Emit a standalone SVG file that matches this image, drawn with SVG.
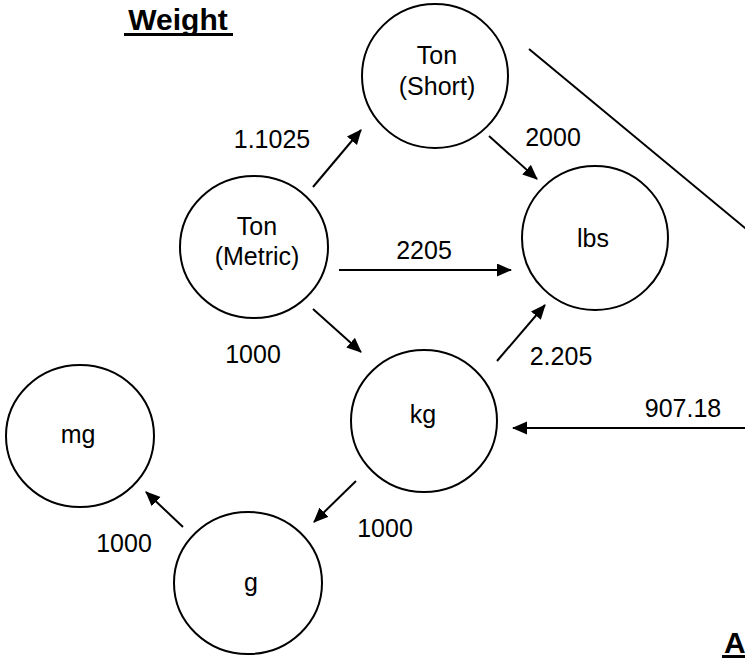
<svg xmlns="http://www.w3.org/2000/svg" width="745" height="659" viewBox="0 0 745 659">
<style>
.node ellipse{fill:#fff;stroke:#000;stroke-width:2}
text{font-family:"Liberation Sans",Arial,sans-serif;font-size:25px;fill:#000;text-anchor:middle}
.title{font-weight:bold;font-size:30px}
#connectors line{stroke:#000;stroke-width:2;fill:none}
.arr{marker-end:url(#ah)}
</style>
<defs>
<marker id="ah" markerUnits="userSpaceOnUse" markerWidth="16" markerHeight="14" refX="14" refY="6.5" orient="auto">
<path d="M0,0 L15,6.5 L0,13 z" fill="#000"/>
</marker>
</defs>
<rect width="745" height="659" fill="#fff"/>
<g id="title-weight">
<text class="title" x="178" y="30">Weight</text>
<rect x="124" y="33" width="109" height="3" fill="#000"/>
</g>
<g id="title-a">
<text class="title" x="724" y="653" style="text-anchor:start">A</text>
<rect x="722" y="655" width="30" height="3" fill="#000"/>
</g>
<g id="node-ton-short" class="node">
<ellipse cx="435" cy="76" rx="73" ry="72"/>
<text x="437" y="64">Ton</text>
<text x="437" y="95">(Short)</text>
</g>
<g id="node-ton-metric" class="node">
<ellipse cx="254" cy="247" rx="74" ry="71"/>
<text x="257" y="235">Ton</text>
<text x="257" y="265">(Metric)</text>
</g>
<g id="node-lbs" class="node">
<ellipse cx="595" cy="238" rx="73" ry="72"/>
<text x="593" y="247">lbs</text>
</g>
<g id="node-kg" class="node">
<ellipse cx="424" cy="421" rx="73" ry="71"/>
<text x="423" y="423">kg</text>
</g>
<g id="node-mg" class="node">
<ellipse cx="80" cy="436" rx="74" ry="71"/>
<text x="78" y="443">mg</text>
</g>
<g id="node-g" class="node">
<ellipse cx="248" cy="583" rx="74" ry="71"/>
<text x="251" y="591">g</text>
</g>
<g id="connectors">
<line class="arr" x1="313" y1="187" x2="361" y2="130"/>
<line class="arr" x1="489" y1="136" x2="537" y2="179"/>
<line class="arr" x1="339" y1="270" x2="511" y2="270"/>
<line class="arr" x1="313" y1="309" x2="361" y2="352"/>
<line class="arr" x1="497" y1="361" x2="545" y2="305"/>
<line class="arr" x1="760" y1="428" x2="513" y2="428"/>
<line class="arr" x1="356" y1="481" x2="314" y2="522"/>
<line class="arr" x1="183" y1="527" x2="146" y2="492"/>
<line x1="529" y1="49" x2="760" y2="240.4"/>
</g>
<g id="labels">
<text x="272" y="148">1.1025</text>
<text x="553" y="146">2000</text>
<text x="424" y="259">2205</text>
<text x="253" y="363">1000</text>
<text x="561" y="365">2.205</text>
<text x="683" y="417">907.18</text>
<text x="385" y="537">1000</text>
<text x="124" y="552">1000</text>
</g>
</svg>
